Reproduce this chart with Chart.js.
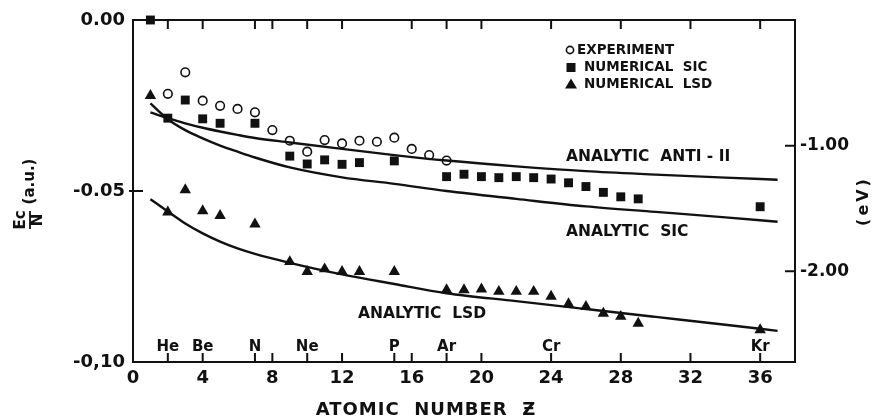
<!DOCTYPE html>
<html>
<head>
<meta charset="utf-8">
<script src="https://cdn.jsdelivr.net/npm/chart.js@4.4.1/dist/chart.umd.min.js"></script>
<style>
  html, body { margin: 0; padding: 0; background: #fff; }
  #wrap { width: 875px; height: 417px; }
</style>
</head>
<body>
<div id="wrap"><canvas id="c"></canvas></div>
<script>
const EV_PER_AU = 27.2114;

// experiment (open circles)
const expZ   = [2, 3, 4, 5, 6, 7, 8, 9, 10, 11, 12, 13, 14, 15, 16, 17, 18];
const expVal = [-0.0216, -0.0153, -0.0236, -0.0251, -0.0260, -0.0270, -0.0322, -0.0353, -0.0385,
                -0.0351, -0.0361, -0.0353, -0.0356, -0.0344, -0.0377, -0.0395, -0.0411];

// numerical SIC (filled squares)
const sicZ   = [1, 2, 3, 4, 5, 7, 9, 10, 11, 12, 13, 15, 18, 19, 20, 21, 22, 23, 24, 25, 26, 27, 28, 29, 36];
const sicVal = [0.0000, -0.0287, -0.0234, -0.0289, -0.0302, -0.0302, -0.0398, -0.0421, -0.0409, -0.0422,
                -0.0417, -0.0412, -0.0458, -0.0451, -0.0458, -0.0461, -0.0458, -0.0461, -0.0465, -0.0476,
                -0.0487, -0.0504, -0.0517, -0.0523, -0.0546];

// numerical LSD (filled triangles)
const lsdZ   = [1, 2, 3, 4, 5, 7, 9, 10, 11, 12, 13, 15, 18, 19, 20, 21, 22, 23, 24, 25, 26, 27, 28, 29, 36];
const lsdVal = [-0.0221, -0.0562, -0.0497, -0.0558, -0.0572, -0.0597, -0.0707, -0.0736, -0.0728, -0.0736,
                -0.0736, -0.0736, -0.0789, -0.0789, -0.0787, -0.0794, -0.0794, -0.0794, -0.0808, -0.0830,
                -0.0838, -0.0858, -0.0867, -0.0887, -0.0906];

// analytic curves
const curveZ   = [1, 2, 3, 4, 5, 6, 7, 9, 12, 15, 18, 22, 26, 30, 34, 37];
const anti2Val = [-0.0270, -0.0287, -0.0302, -0.0315, -0.0326, -0.0336, -0.0345, -0.0358, -0.0377,
                  -0.0395, -0.0411, -0.0428, -0.0442, -0.0452, -0.0461, -0.0467];
const sicLine  = [-0.0244, -0.0290, -0.0322, -0.0346, -0.0367, -0.0385, -0.0402, -0.0431, -0.0460,
                  -0.0479, -0.0500, -0.0523, -0.0545, -0.0561, -0.0577, -0.0590];
const lsdLine  = [-0.0524, -0.0560, -0.0595, -0.0624, -0.0648, -0.0668, -0.0684, -0.0710, -0.0744,
                  -0.0772, -0.0799, -0.0822, -0.0845, -0.0868, -0.0891, -0.0909];

// axes
const xLabelTicks   = [0, 4, 8, 12, 16, 20, 24, 28, 32, 36];
const xBottomMarks  = [2, 4, 7, 8, 10, 12, 15, 16, 18, 20, 24, 28, 32, 36];
const xTopMarks     = [2, 4, 7, 8, 10, 12, 16, 18, 20, 24, 28, 32, 36];
const yTickValues   = [0, -0.05, -0.10];
const yTickLabels   = ['0.00', '-0.05', '-0,10'];
const evTickValues  = [-1, -2];
const evTickLabels  = ['-1.00', '-2.00'];

const elementNames = ['He', 'Be', 'N', 'Ne', 'P', 'Ar', 'Cr', 'Kr'];
const elementZ     = [2, 4, 7, 10, 15, 18, 24, 36];

const legendLabels = ['EXPERIMENT', 'NUMERICAL  SIC', 'NUMERICAL  LSD'];

const INK = '#111';
const FONT = '"DejaVu Sans", sans-serif';

const pts = (xs, ys) => xs.map((x, i) => ({ x: x, y: ys[i] }));

const curve = (data) => ({
    type: 'line',
    data: data,
    borderColor: INK,
    borderWidth: 2.4,
    pointRadius: 0,
    fill: false,
    cubicInterpolationMode: 'monotone',
    clip: false
});

const overlay = {
    id: 'overlay',
    afterDraw(chart) {
        const c = chart.ctx;
        const a = chart.chartArea;
        const sx = chart.scales.x, sy = chart.scales.y, se = chart.scales.yev;
        c.save();
        c.strokeStyle = INK;
        c.fillStyle = INK;
        c.lineWidth = 2;
        c.strokeRect(a.left, a.top, a.right - a.left, a.bottom - a.top);

        // inward tick marks
        c.beginPath();
        xBottomMarks.forEach(z => {
            const px = sx.getPixelForValue(z);
            c.moveTo(px, a.bottom); c.lineTo(px, a.bottom - 9);
        });
        xTopMarks.forEach(z => {
            const px = sx.getPixelForValue(z);
            c.moveTo(px, a.top); c.lineTo(px, a.top + 9);
        });
        const py = sy.getPixelForValue(-0.05);
        c.moveTo(a.left - 4, py); c.lineTo(a.left + 10, py);
        evTickValues.forEach(v => {
            const p = se.getPixelForValue(v);
            c.moveTo(a.right, p); c.lineTo(a.right - 10, p);
        });
        c.stroke();

        // element names over the bottom ticks
        c.font = 'bold 15px ' + FONT;
        c.textAlign = 'center';
        c.textBaseline = 'alphabetic';
        elementNames.forEach((n, i) => c.fillText(n, sx.getPixelForValue(elementZ[i]), a.bottom - 11));

        // curve labels
        c.font = 'bold 15.5px ' + FONT;
        c.textAlign = 'left';
        c.fillText('ANALYTIC  ANTI - II', 566, 161);
        c.fillText('ANALYTIC  SIC', 566, 236);
        c.fillText('ANALYTIC  LSD', 358, 318);

        // legend
        c.font = 'bold 13.5px ' + FONT;
        c.textBaseline = 'middle';
        const rows = [50, 67.5, 84];
        c.lineWidth = 1.6;
        c.beginPath(); c.arc(570, rows[0], 3.6, 0, Math.PI * 2); c.stroke();
        c.fillRect(566.5, rows[1] - 4.5, 9, 9);
        c.beginPath();
        c.moveTo(571, rows[2] - 5.5); c.lineTo(577, rows[2] + 4.5); c.lineTo(565, rows[2] + 4.5);
        c.closePath(); c.fill();
        c.fillText(legendLabels[0], 577, rows[0]);
        c.fillText(legendLabels[1], 584, rows[1]);
        c.fillText(legendLabels[2], 584, rows[2]);

        // x title
        c.font = 'bold 18px ' + FONT;
        c.letterSpacing = '1px';
        c.textAlign = 'center';
        c.textBaseline = 'alphabetic';
        c.fillText('ATOMIC  NUMBER  Ƶ', 426, 415);

        // left title: Ec/N (a.u.)
        c.letterSpacing = '0px';
        c.save();
        c.translate(30, 200);
        c.rotate(-Math.PI / 2);
        c.font = 'bold 15px ' + FONT;
        c.textBaseline = 'middle';
        c.fillText('(a.u.)', 18.5, 0);
        c.font = 'bold 15px ' + FONT;
        c.fillText('Ec', -20, -8.5);
        c.fillText('N', -20, 8.5);
        c.lineWidth = 1.8;
        c.beginPath(); c.moveTo(-29, 0); c.lineTo(-11, 0); c.stroke();
        c.restore();

        // right title (eV)
        c.save();
        c.translate(864, 203);
        c.rotate(-Math.PI / 2);
        c.font = 'bold 16px ' + FONT;
        c.letterSpacing = '3px';
        c.textAlign = 'center';
        c.textBaseline = 'middle';
        c.fillText('(eV)', 2, 0);
        c.restore();

        c.restore();
    }
};

new Chart(document.getElementById('c'), {
    type: 'scatter',
    data: {
        datasets: [
            curve(pts(curveZ, anti2Val)),
            curve(pts(curveZ, sicLine)),
            curve(pts(curveZ, lsdLine)),
            {
                data: pts(expZ, expVal),
                pointStyle: 'circle',
                pointRadius: 4.3,
                borderWidth: 1.6,
                borderColor: INK,
                backgroundColor: '#fff',
                clip: false
            },
            {
                data: pts(sicZ, sicVal),
                pointStyle: 'rect',
                pointRadius: 6.3,
                borderWidth: 0,
                backgroundColor: INK,
                clip: false
            },
            {
                data: pts(lsdZ, lsdVal),
                pointStyle: 'triangle',
                pointRadius: 6.6,
                borderWidth: 0,
                backgroundColor: INK,
                clip: false
            }
        ]
    },
    options: {
        responsive: true,
        maintainAspectRatio: false,
        animation: false,
        layout: { padding: { top: 20, left: 0, right: 0, bottom: 0 } },
        plugins: {
            legend: { display: false },
            tooltip: { enabled: false }
        },
        scales: {
            x: {
                type: 'linear',
                min: 0,
                max: 38,
                grid: { display: false, drawTicks: false },
                border: { display: false },
                afterBuildTicks: s => { s.ticks = xLabelTicks.map(v => ({ value: v })); },
                afterFit: s => { s.height = 55; },
                ticks: {
                    color: INK,
                    padding: 6,
                    maxRotation: 0,
                    autoSkip: false,
                    font: { family: FONT, size: 18, weight: 'bold' }
                }
            },
            y: {
                type: 'linear',
                min: -0.10,
                max: 0,
                grid: { display: false, drawTicks: false },
                border: { display: false },
                afterBuildTicks: s => { s.ticks = yTickValues.map(v => ({ value: v })); },
                afterFit: s => { s.width = 133; },
                ticks: {
                    color: INK,
                    padding: 8,
                    font: { family: FONT, size: 18, weight: 'bold' },
                    callback: v => yTickLabels[yTickValues.findIndex(t => Math.abs(t - v) < 1e-9)]
                }
            },
            yev: {
                type: 'linear',
                position: 'right',
                min: -0.10 * EV_PER_AU,
                max: 0,
                grid: { display: false, drawTicks: false },
                border: { display: false },
                afterBuildTicks: s => { s.ticks = evTickValues.map(v => ({ value: v })); },
                afterFit: s => { s.width = 80; },
                ticks: {
                    color: INK,
                    padding: 5,
                    font: { family: FONT, size: 17, weight: 'bold' },
                    callback: v => evTickLabels[evTickValues.indexOf(v)]
                }
            }
        }
    },
    plugins: [overlay]
});
</script>
</body>
</html>
